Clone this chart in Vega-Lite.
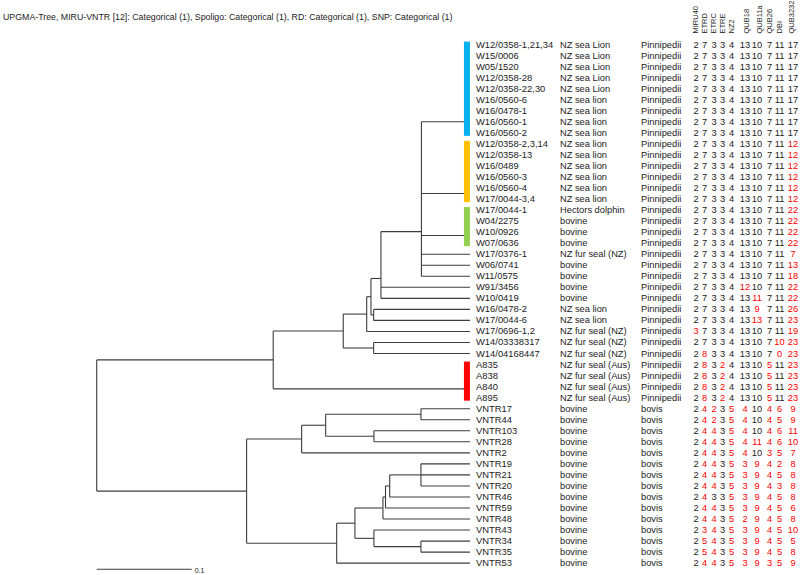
{
  "$schema": "https://vega.github.io/schema/vega-lite/v6.json",
  "width": 800,
  "height": 575,
  "autosize": {"type": "fit", "contains": "padding"},
  "padding": 0,
  "background": "white",
  "config": {"view": {"stroke": null}, "axis": {"disable": true}, "text": {"font": "Liberation Sans"}},
  "datasets": {
    "isolates": [
      {"row": 1, "id": "W12/0358-1,21,34", "host": "NZ sea Lion", "cat": "Pinnipedii", "MIRU40": 2, "ETRD": 7, "ETRC": 3, "ETRE": 3, "NZ2": 4, "QUB18": 13, "QUB11a": 10, "QUB26": 7, "DBI": 11, "QUB3232": 17},
      {"row": 2, "id": "W15/0006", "host": "NZ sea Lion", "cat": "Pinnipedii", "MIRU40": 2, "ETRD": 7, "ETRC": 3, "ETRE": 3, "NZ2": 4, "QUB18": 13, "QUB11a": 10, "QUB26": 7, "DBI": 11, "QUB3232": 17},
      {"row": 3, "id": "W05/1520", "host": "NZ sea Lion", "cat": "Pinnipedii", "MIRU40": 2, "ETRD": 7, "ETRC": 3, "ETRE": 3, "NZ2": 4, "QUB18": 13, "QUB11a": 10, "QUB26": 7, "DBI": 11, "QUB3232": 17},
      {"row": 4, "id": "W12/0358-28", "host": "NZ sea Lion", "cat": "Pinnipedii", "MIRU40": 2, "ETRD": 7, "ETRC": 3, "ETRE": 3, "NZ2": 4, "QUB18": 13, "QUB11a": 10, "QUB26": 7, "DBI": 11, "QUB3232": 17},
      {"row": 5, "id": "W12/0358-22,30", "host": "NZ sea Lion", "cat": "Pinnipedii", "MIRU40": 2, "ETRD": 7, "ETRC": 3, "ETRE": 3, "NZ2": 4, "QUB18": 13, "QUB11a": 10, "QUB26": 7, "DBI": 11, "QUB3232": 17},
      {"row": 6, "id": "W16/0560-6", "host": "NZ sea lion", "cat": "Pinnipedii", "MIRU40": 2, "ETRD": 7, "ETRC": 3, "ETRE": 3, "NZ2": 4, "QUB18": 13, "QUB11a": 10, "QUB26": 7, "DBI": 11, "QUB3232": 17},
      {"row": 7, "id": "W16/0478-1", "host": "NZ sea lion", "cat": "Pinnipedii", "MIRU40": 2, "ETRD": 7, "ETRC": 3, "ETRE": 3, "NZ2": 4, "QUB18": 13, "QUB11a": 10, "QUB26": 7, "DBI": 11, "QUB3232": 17},
      {"row": 8, "id": "W16/0560-1", "host": "NZ sea lion", "cat": "Pinnipedii", "MIRU40": 2, "ETRD": 7, "ETRC": 3, "ETRE": 3, "NZ2": 4, "QUB18": 13, "QUB11a": 10, "QUB26": 7, "DBI": 11, "QUB3232": 17},
      {"row": 9, "id": "W16/0560-2", "host": "NZ sea lion", "cat": "Pinnipedii", "MIRU40": 2, "ETRD": 7, "ETRC": 3, "ETRE": 3, "NZ2": 4, "QUB18": 13, "QUB11a": 10, "QUB26": 7, "DBI": 11, "QUB3232": 17},
      {"row": 10, "id": "W12/0358-2,3,14", "host": "NZ sea lion", "cat": "Pinnipedii", "MIRU40": 2, "ETRD": 7, "ETRC": 3, "ETRE": 3, "NZ2": 4, "QUB18": 13, "QUB11a": 10, "QUB26": 7, "DBI": 11, "QUB3232": 12},
      {"row": 11, "id": "W12/0358-13", "host": "NZ sea lion", "cat": "Pinnipedii", "MIRU40": 2, "ETRD": 7, "ETRC": 3, "ETRE": 3, "NZ2": 4, "QUB18": 13, "QUB11a": 10, "QUB26": 7, "DBI": 11, "QUB3232": 12},
      {"row": 12, "id": "W16/0489", "host": "NZ sea lion", "cat": "Pinnipedii", "MIRU40": 2, "ETRD": 7, "ETRC": 3, "ETRE": 3, "NZ2": 4, "QUB18": 13, "QUB11a": 10, "QUB26": 7, "DBI": 11, "QUB3232": 12},
      {"row": 13, "id": "W16/0560-3", "host": "NZ sea lion", "cat": "Pinnipedii", "MIRU40": 2, "ETRD": 7, "ETRC": 3, "ETRE": 3, "NZ2": 4, "QUB18": 13, "QUB11a": 10, "QUB26": 7, "DBI": 11, "QUB3232": 12},
      {"row": 14, "id": "W16/0560-4", "host": "NZ sea lion", "cat": "Pinnipedii", "MIRU40": 2, "ETRD": 7, "ETRC": 3, "ETRE": 3, "NZ2": 4, "QUB18": 13, "QUB11a": 10, "QUB26": 7, "DBI": 11, "QUB3232": 12},
      {"row": 15, "id": "W17/0044-3,4", "host": "NZ sea lion", "cat": "Pinnipedii", "MIRU40": 2, "ETRD": 7, "ETRC": 3, "ETRE": 3, "NZ2": 4, "QUB18": 13, "QUB11a": 10, "QUB26": 7, "DBI": 11, "QUB3232": 12},
      {"row": 16, "id": "W17/0044-1", "host": "Hectors dolphin", "cat": "Pinnipedii", "MIRU40": 2, "ETRD": 7, "ETRC": 3, "ETRE": 3, "NZ2": 4, "QUB18": 13, "QUB11a": 10, "QUB26": 7, "DBI": 11, "QUB3232": 22},
      {"row": 17, "id": "W04/2275", "host": "bovine", "cat": "Pinnipedii", "MIRU40": 2, "ETRD": 7, "ETRC": 3, "ETRE": 3, "NZ2": 4, "QUB18": 13, "QUB11a": 10, "QUB26": 7, "DBI": 11, "QUB3232": 22},
      {"row": 18, "id": "W10/0926", "host": "bovine", "cat": "Pinnipedii", "MIRU40": 2, "ETRD": 7, "ETRC": 3, "ETRE": 3, "NZ2": 4, "QUB18": 13, "QUB11a": 10, "QUB26": 7, "DBI": 11, "QUB3232": 22},
      {"row": 19, "id": "W07/0636", "host": "bovine", "cat": "Pinnipedii", "MIRU40": 2, "ETRD": 7, "ETRC": 3, "ETRE": 3, "NZ2": 4, "QUB18": 13, "QUB11a": 10, "QUB26": 7, "DBI": 11, "QUB3232": 22},
      {"row": 20, "id": "W17/0376-1", "host": "NZ fur seal (NZ)", "cat": "Pinnipedii", "MIRU40": 2, "ETRD": 7, "ETRC": 3, "ETRE": 3, "NZ2": 4, "QUB18": 13, "QUB11a": 10, "QUB26": 7, "DBI": 11, "QUB3232": 7},
      {"row": 21, "id": "W06/0741", "host": "bovine", "cat": "Pinnipedii", "MIRU40": 2, "ETRD": 7, "ETRC": 3, "ETRE": 3, "NZ2": 4, "QUB18": 13, "QUB11a": 10, "QUB26": 7, "DBI": 11, "QUB3232": 13},
      {"row": 22, "id": "W11/0575", "host": "bovine", "cat": "Pinnipedii", "MIRU40": 2, "ETRD": 7, "ETRC": 3, "ETRE": 3, "NZ2": 4, "QUB18": 13, "QUB11a": 10, "QUB26": 7, "DBI": 11, "QUB3232": 18},
      {"row": 23, "id": "W91/3456", "host": "bovine", "cat": "Pinnipedii", "MIRU40": 2, "ETRD": 7, "ETRC": 3, "ETRE": 3, "NZ2": 4, "QUB18": 12, "QUB11a": 10, "QUB26": 7, "DBI": 11, "QUB3232": 22},
      {"row": 24, "id": "W10/0419", "host": "bovine", "cat": "Pinnipedii", "MIRU40": 2, "ETRD": 7, "ETRC": 3, "ETRE": 3, "NZ2": 4, "QUB18": 13, "QUB11a": 11, "QUB26": 7, "DBI": 11, "QUB3232": 22},
      {"row": 25, "id": "W16/0478-2", "host": "NZ sea lion", "cat": "Pinnipedii", "MIRU40": 2, "ETRD": 7, "ETRC": 3, "ETRE": 3, "NZ2": 4, "QUB18": 13, "QUB11a": 9, "QUB26": 7, "DBI": 11, "QUB3232": 26},
      {"row": 26, "id": "W17/0044-6", "host": "NZ sea lion", "cat": "Pinnipedii", "MIRU40": 2, "ETRD": 7, "ETRC": 3, "ETRE": 3, "NZ2": 4, "QUB18": 13, "QUB11a": 13, "QUB26": 7, "DBI": 11, "QUB3232": 23},
      {"row": 27, "id": "W17/0696-1,2", "host": "NZ fur seal (NZ)", "cat": "Pinnipedii", "MIRU40": 3, "ETRD": 7, "ETRC": 3, "ETRE": 3, "NZ2": 4, "QUB18": 13, "QUB11a": 10, "QUB26": 7, "DBI": 11, "QUB3232": 19},
      {"row": 28, "id": "W14/03338317", "host": "NZ fur seal (NZ)", "cat": "Pinnipedii", "MIRU40": 2, "ETRD": 7, "ETRC": 3, "ETRE": 3, "NZ2": 4, "QUB18": 13, "QUB11a": 10, "QUB26": 7, "DBI": 10, "QUB3232": 23},
      {"row": 29, "id": "W14/04168447", "host": "NZ fur seal (NZ)", "cat": "Pinnipedii", "MIRU40": 2, "ETRD": 8, "ETRC": 3, "ETRE": 3, "NZ2": 4, "QUB18": 13, "QUB11a": 10, "QUB26": 7, "DBI": 0, "QUB3232": 23},
      {"row": 30, "id": "A835", "host": "NZ fur seal (Aus)", "cat": "Pinnipedii", "MIRU40": 2, "ETRD": 8, "ETRC": 3, "ETRE": 2, "NZ2": 4, "QUB18": 13, "QUB11a": 10, "QUB26": 5, "DBI": 11, "QUB3232": 23},
      {"row": 31, "id": "A838", "host": "NZ fur seal (Aus)", "cat": "Pinnipedii", "MIRU40": 2, "ETRD": 8, "ETRC": 3, "ETRE": 2, "NZ2": 4, "QUB18": 13, "QUB11a": 10, "QUB26": 5, "DBI": 11, "QUB3232": 23},
      {"row": 32, "id": "A840", "host": "NZ fur seal (Aus)", "cat": "Pinnipedii", "MIRU40": 2, "ETRD": 8, "ETRC": 3, "ETRE": 2, "NZ2": 4, "QUB18": 13, "QUB11a": 10, "QUB26": 5, "DBI": 11, "QUB3232": 23},
      {"row": 33, "id": "A895", "host": "NZ fur seal (Aus)", "cat": "Pinnipedii", "MIRU40": 2, "ETRD": 8, "ETRC": 3, "ETRE": 2, "NZ2": 4, "QUB18": 13, "QUB11a": 10, "QUB26": 5, "DBI": 11, "QUB3232": 23},
      {"row": 34, "id": "VNTR17", "host": "bovine", "cat": "bovis", "MIRU40": 2, "ETRD": 4, "ETRC": 2, "ETRE": 3, "NZ2": 5, "QUB18": 4, "QUB11a": 10, "QUB26": 4, "DBI": 6, "QUB3232": 9},
      {"row": 35, "id": "VNTR44", "host": "bovine", "cat": "bovis", "MIRU40": 2, "ETRD": 4, "ETRC": 2, "ETRE": 3, "NZ2": 5, "QUB18": 4, "QUB11a": 10, "QUB26": 4, "DBI": 5, "QUB3232": 9},
      {"row": 36, "id": "VNTR103", "host": "bovine", "cat": "bovis", "MIRU40": 2, "ETRD": 4, "ETRC": 4, "ETRE": 3, "NZ2": 5, "QUB18": 4, "QUB11a": 10, "QUB26": 4, "DBI": 6, "QUB3232": 11},
      {"row": 37, "id": "VNTR28", "host": "bovine", "cat": "bovis", "MIRU40": 2, "ETRD": 4, "ETRC": 4, "ETRE": 3, "NZ2": 5, "QUB18": 4, "QUB11a": 11, "QUB26": 4, "DBI": 6, "QUB3232": 10},
      {"row": 38, "id": "VNTR2", "host": "bovine", "cat": "bovis", "MIRU40": 2, "ETRD": 4, "ETRC": 4, "ETRE": 3, "NZ2": 5, "QUB18": 4, "QUB11a": 10, "QUB26": 3, "DBI": 5, "QUB3232": 7},
      {"row": 39, "id": "VNTR19", "host": "bovine", "cat": "bovis", "MIRU40": 2, "ETRD": 4, "ETRC": 4, "ETRE": 3, "NZ2": 5, "QUB18": 3, "QUB11a": 9, "QUB26": 4, "DBI": 2, "QUB3232": 8},
      {"row": 40, "id": "VNTR21", "host": "bovine", "cat": "bovis", "MIRU40": 2, "ETRD": 4, "ETRC": 4, "ETRE": 3, "NZ2": 5, "QUB18": 3, "QUB11a": 9, "QUB26": 4, "DBI": 5, "QUB3232": 8},
      {"row": 41, "id": "VNTR20", "host": "bovine", "cat": "bovis", "MIRU40": 2, "ETRD": 4, "ETRC": 4, "ETRE": 3, "NZ2": 5, "QUB18": 3, "QUB11a": 9, "QUB26": 4, "DBI": 3, "QUB3232": 8},
      {"row": 42, "id": "VNTR46", "host": "bovine", "cat": "bovis", "MIRU40": 2, "ETRD": 4, "ETRC": 3, "ETRE": 3, "NZ2": 5, "QUB18": 3, "QUB11a": 9, "QUB26": 4, "DBI": 5, "QUB3232": 8},
      {"row": 43, "id": "VNTR59", "host": "bovine", "cat": "bovis", "MIRU40": 2, "ETRD": 4, "ETRC": 4, "ETRE": 3, "NZ2": 5, "QUB18": 3, "QUB11a": 9, "QUB26": 4, "DBI": 5, "QUB3232": 6},
      {"row": 44, "id": "VNTR48", "host": "bovine", "cat": "bovis", "MIRU40": 2, "ETRD": 4, "ETRC": 4, "ETRE": 3, "NZ2": 5, "QUB18": 2, "QUB11a": 9, "QUB26": 4, "DBI": 5, "QUB3232": 8},
      {"row": 45, "id": "VNTR43", "host": "bovine", "cat": "bovis", "MIRU40": 2, "ETRD": 3, "ETRC": 4, "ETRE": 3, "NZ2": 5, "QUB18": 3, "QUB11a": 9, "QUB26": 4, "DBI": 5, "QUB3232": 10},
      {"row": 46, "id": "VNTR34", "host": "bovine", "cat": "bovis", "MIRU40": 2, "ETRD": 5, "ETRC": 4, "ETRE": 3, "NZ2": 5, "QUB18": 3, "QUB11a": 9, "QUB26": 4, "DBI": 5, "QUB3232": 5},
      {"row": 47, "id": "VNTR35", "host": "bovine", "cat": "bovis", "MIRU40": 2, "ETRD": 5, "ETRC": 4, "ETRE": 3, "NZ2": 5, "QUB18": 3, "QUB11a": 9, "QUB26": 4, "DBI": 5, "QUB3232": 8},
      {"row": 48, "id": "VNTR53", "host": "bovine", "cat": "bovis", "MIRU40": 2, "ETRD": 4, "ETRC": 4, "ETRE": 3, "NZ2": 5, "QUB18": 3, "QUB11a": 9, "QUB26": 3, "DBI": 5, "QUB3232": 9}
    ],
    "segments": [
      {"h1": 0.3929, "h2": 0.3929, "r1": 29.58, "r2": 41.47},
      {"h1": 0.2071, "h2": 0.2071, "r1": 26.96, "r2": 32.2},
      {"h1": 0.1334, "h2": 0.1334, "r1": 25.425, "r2": 28.5},
      {"h1": 0.1014, "h2": 0.1014, "r1": 28, "r2": 29},
      {"h1": 0.1087, "h2": 0.1087, "r1": 23.85, "r2": 27},
      {"h1": 0.1042, "h2": 0.1042, "r1": 22.2, "r2": 25.5},
      {"h1": 0.1014, "h2": 0.1014, "r1": 25, "r2": 26},
      {"h1": 0.0937, "h2": 0.0937, "r1": 17.95, "r2": 24},
      {"h1": 0.0511, "h2": 0.0511, "r1": 8, "r2": 22},
      {"h1": 0.2351, "h2": 0.2351, "r1": 36.75, "r2": 46.19},
      {"h1": 0.1772, "h2": 0.1772, "r1": 35.5, "r2": 38},
      {"h1": 0.1519, "h2": 0.1519, "r1": 34.5, "r2": 36.5},
      {"h1": 0.0516, "h2": 0.0516, "r1": 34, "r2": 35},
      {"h1": 0.1011, "h2": 0.1011, "r1": 36, "r2": 37},
      {"h1": 0.1403, "h2": 0.1403, "r1": 44.375, "r2": 48},
      {"h1": 0.1211, "h2": 0.1211, "r1": 43, "r2": 45.75},
      {"h1": 0.0916, "h2": 0.0916, "r1": 42, "r2": 44},
      {"h1": 0.0889, "h2": 0.0889, "r1": 41, "r2": 43},
      {"h1": 0.0845, "h2": 0.0845, "r1": 40, "r2": 42},
      {"h1": 0.0516, "h2": 0.0516, "r1": 39, "r2": 41},
      {"h1": 0.1011, "h2": 0.1011, "r1": 45, "r2": 46.5},
      {"h1": 0.0516, "h2": 0.0516, "r1": 46, "r2": 47},
      {"h1": 0.3929, "h2": 0.2071, "r1": 29.58, "r2": 29.58},
      {"h1": 0.3929, "h2": 0.2351, "r1": 41.47, "r2": 41.47},
      {"h1": 0.2071, "h2": 0.1334, "r1": 26.96, "r2": 26.96},
      {"h1": 0.2071, "h2": 0, "r1": 32.2, "r2": 32.2},
      {"h1": 0.1334, "h2": 0.1087, "r1": 25.425, "r2": 25.425},
      {"h1": 0.1334, "h2": 0.1014, "r1": 28.5, "r2": 28.5},
      {"h1": 0.1014, "h2": 0, "r1": 28, "r2": 28},
      {"h1": 0.1014, "h2": 0, "r1": 29, "r2": 29},
      {"h1": 0.1087, "h2": 0.1042, "r1": 23.85, "r2": 23.85},
      {"h1": 0.1087, "h2": 0, "r1": 27, "r2": 27},
      {"h1": 0.1042, "h2": 0.0937, "r1": 22.2, "r2": 22.2},
      {"h1": 0.1042, "h2": 0.1014, "r1": 25.5, "r2": 25.5},
      {"h1": 0.1014, "h2": 0, "r1": 25, "r2": 25},
      {"h1": 0.1014, "h2": 0, "r1": 26, "r2": 26},
      {"h1": 0.0937, "h2": 0.0511, "r1": 17.95, "r2": 17.95},
      {"h1": 0.0937, "h2": 0, "r1": 23, "r2": 23},
      {"h1": 0.0937, "h2": 0, "r1": 24, "r2": 24},
      {"h1": 0.0511, "h2": 0, "r1": 8, "r2": 8},
      {"h1": 0.0511, "h2": 0, "r1": 14.5, "r2": 14.5},
      {"h1": 0.0511, "h2": 0, "r1": 18.3, "r2": 18.3},
      {"h1": 0.0511, "h2": 0, "r1": 20, "r2": 20},
      {"h1": 0.0511, "h2": 0, "r1": 21, "r2": 21},
      {"h1": 0.0511, "h2": 0, "r1": 22, "r2": 22},
      {"h1": 0.2351, "h2": 0.1772, "r1": 36.75, "r2": 36.75},
      {"h1": 0.2351, "h2": 0.1403, "r1": 46.19, "r2": 46.19},
      {"h1": 0.1772, "h2": 0.1519, "r1": 35.5, "r2": 35.5},
      {"h1": 0.1772, "h2": 0, "r1": 38, "r2": 38},
      {"h1": 0.1519, "h2": 0.0516, "r1": 34.5, "r2": 34.5},
      {"h1": 0.1519, "h2": 0.1011, "r1": 36.5, "r2": 36.5},
      {"h1": 0.0516, "h2": 0, "r1": 34, "r2": 34},
      {"h1": 0.0516, "h2": 0, "r1": 35, "r2": 35},
      {"h1": 0.1011, "h2": 0, "r1": 36, "r2": 36},
      {"h1": 0.1011, "h2": 0, "r1": 37, "r2": 37},
      {"h1": 0.1403, "h2": 0.1211, "r1": 44.375, "r2": 44.375},
      {"h1": 0.1403, "h2": 0, "r1": 48, "r2": 48},
      {"h1": 0.1211, "h2": 0.0916, "r1": 43, "r2": 43},
      {"h1": 0.1211, "h2": 0.1011, "r1": 45.75, "r2": 45.75},
      {"h1": 0.0916, "h2": 0.0889, "r1": 42, "r2": 42},
      {"h1": 0.0916, "h2": 0, "r1": 44, "r2": 44},
      {"h1": 0.0889, "h2": 0.0845, "r1": 41, "r2": 41},
      {"h1": 0.0889, "h2": 0, "r1": 43, "r2": 43},
      {"h1": 0.0845, "h2": 0.0516, "r1": 40, "r2": 40},
      {"h1": 0.0845, "h2": 0, "r1": 42, "r2": 42},
      {"h1": 0.0516, "h2": 0, "r1": 39, "r2": 39},
      {"h1": 0.0516, "h2": 0, "r1": 40, "r2": 40},
      {"h1": 0.0516, "h2": 0, "r1": 41, "r2": 41},
      {"h1": 0.1011, "h2": 0, "r1": 45, "r2": 45},
      {"h1": 0.1011, "h2": 0.0516, "r1": 46.5, "r2": 46.5},
      {"h1": 0.0516, "h2": 0, "r1": 46, "r2": 46},
      {"h1": 0.0516, "h2": 0, "r1": 47, "r2": 47}
    ],
    "clusters": [
      {"cluster": "1", "first": 1, "last": 9},
      {"cluster": "2", "first": 10, "last": 15},
      {"cluster": "3", "first": 16, "last": 19},
      {"cluster": "4", "first": 30, "last": 33}
    ]
  },
  "resolve": {"scale": {"x": "independent"}},
  "layer": [
    {
      "layer": [
        {
          "data": {"name": "segments"},
          "mark": {"type": "rule", "stroke": "#3c3c3c", "strokeWidth": 1.1},
          "encoding": {
            "x": {"field": "h1", "type": "quantitative", "scale": {"domain": [-0.3474, 0.4947], "reverse": true, "nice": false, "zero": false}, "axis": null},
            "x2": {"field": "h2"},
            "y": {"field": "r1", "type": "quantitative", "scale": {"domain": [-2.767, 48.8], "reverse": true, "nice": false, "zero": false}, "axis": null},
            "y2": {"field": "r2"}
          }
        },
        {
          "data": {"name": "clusters"},
          "mark": {"type": "rule", "strokeWidth": 6, "strokeCap": "square"},
          "encoding": {
            "x": {"datum": 0.0032, "type": "quantitative", "scale": {"domain": [-0.3474, 0.4947], "reverse": true, "nice": false, "zero": false}, "axis": null},
            "y": {"field": "first", "type": "quantitative", "scale": {"domain": [-2.767, 48.8], "reverse": true, "nice": false, "zero": false}, "axis": null},
            "y2": {"field": "last"},
            "color": {"field": "cluster", "type": "nominal", "scale": {"domain": ["1", "2", "3", "4"], "range": ["#00B0F0", "#FFC000", "#92D050", "#FF0000"]}, "legend": null}
          }
        },
        {
          "data": {"values": [{"start": 0.3929, "end": 0.2929, "label": "0.1"}]},
          "mark": {"type": "rule", "stroke": "#3c3c3c", "strokeWidth": 1.1},
          "encoding": {
            "x": {"field": "start", "type": "quantitative", "scale": {"domain": [-0.3474, 0.4947], "reverse": true, "nice": false, "zero": false}, "axis": null},
            "x2": {"field": "end"},
            "y": {"datum": 48.55, "type": "quantitative", "scale": {"domain": [-2.767, 48.8], "reverse": true, "nice": false, "zero": false}, "axis": null}
          }
        },
        {
          "data": {"values": [{"start": 0.3929, "end": 0.2929, "label": "0.1"}]},
          "mark": {"type": "text", "align": "left", "baseline": "middle", "fontSize": 7, "dx": 3, "dy": 2, "color": "#222222"},
          "encoding": {
            "x": {"field": "end", "type": "quantitative", "scale": {"domain": [-0.3474, 0.4947], "reverse": true, "nice": false, "zero": false}, "axis": null},
            "y": {"datum": 48.55, "type": "quantitative", "scale": {"domain": [-2.767, 48.8], "reverse": true, "nice": false, "zero": false}, "axis": null},
            "text": {"field": "label"}
          }
        }
      ]
    },
    {
      "data": {"name": "isolates"},
      "layer": [
        {
          "data": {"values": [{"t": "UPGMA-Tree,  MIRU-VNTR  [12]: Categorical (1), Spoligo:  Categorical (1), RD:  Categorical (1), SNP:  Categorical (1)"}]},
          "mark": {"type": "text", "align": "left", "baseline": "middle", "fontSize": 8.8, "color": "#222222"},
          "encoding": {
            "x": {"datum": 3, "type": "quantitative", "scale": {"domain": [0, 800], "nice": false, "zero": false}, "axis": null},
            "y": {"datum": -1.5, "type": "quantitative", "scale": {"domain": [-2.767, 48.8], "reverse": true, "nice": false, "zero": false}, "axis": null},
            "text": {"field": "t"}
          }
        },
        {"mark": {"type": "text", "align": "left", "baseline": "middle", "fontSize": 9.4, "color": "#222222"},
         "encoding": {"x": {"datum": 476, "type": "quantitative", "scale": {"domain": [0, 800], "nice": false, "zero": false}, "axis": null}, "y": {"field": "row", "type": "quantitative", "scale": {"domain": [-2.767, 48.8], "reverse": true, "nice": false, "zero": false}, "axis": null}, "text": {"field": "id"}}},
        {"mark": {"type": "text", "align": "left", "baseline": "middle", "fontSize": 9.3, "color": "#222222"},
         "encoding": {"x": {"datum": 560}, "y": {"field": "row", "type": "quantitative"}, "text": {"field": "host"}}},
        {"mark": {"type": "text", "align": "left", "baseline": "middle", "fontSize": 9.3, "color": "#222222"},
         "encoding": {"x": {"datum": 641}, "y": {"field": "row", "type": "quantitative"}, "text": {"field": "cat"}}},
        {"mark": {"type": "text", "align": "center", "baseline": "middle", "fontSize": 9.3},
         "encoding": {"x": {"datum": 696}, "y": {"field": "row", "type": "quantitative"}, "text": {"field": "MIRU40"}, "color": {"condition": {"test": "datum.MIRU40 !== 2", "value": "#FF0000"}, "value": "#222222"}}},
        {"mark": {"type": "text", "align": "center", "baseline": "middle", "fontSize": 9.3},
         "encoding": {"x": {"datum": 704.5}, "y": {"field": "row", "type": "quantitative"}, "text": {"field": "ETRD"}, "color": {"condition": {"test": "datum.ETRD !== 7", "value": "#FF0000"}, "value": "#222222"}}},
        {"mark": {"type": "text", "align": "center", "baseline": "middle", "fontSize": 9.3},
         "encoding": {"x": {"datum": 714}, "y": {"field": "row", "type": "quantitative"}, "text": {"field": "ETRC"}, "color": {"condition": {"test": "datum.ETRC !== 3", "value": "#FF0000"}, "value": "#222222"}}},
        {"mark": {"type": "text", "align": "center", "baseline": "middle", "fontSize": 9.3},
         "encoding": {"x": {"datum": 722.5}, "y": {"field": "row", "type": "quantitative"}, "text": {"field": "ETRE"}, "color": {"condition": {"test": "datum.ETRE !== 3", "value": "#FF0000"}, "value": "#222222"}}},
        {"mark": {"type": "text", "align": "center", "baseline": "middle", "fontSize": 9.3},
         "encoding": {"x": {"datum": 731.5}, "y": {"field": "row", "type": "quantitative"}, "text": {"field": "NZ2"}, "color": {"condition": {"test": "datum.NZ2 !== 4", "value": "#FF0000"}, "value": "#222222"}}},
        {"mark": {"type": "text", "align": "center", "baseline": "middle", "fontSize": 9.3},
         "encoding": {"x": {"datum": 745}, "y": {"field": "row", "type": "quantitative"}, "text": {"field": "QUB18"}, "color": {"condition": {"test": "datum.QUB18 !== 13", "value": "#FF0000"}, "value": "#222222"}}},
        {"mark": {"type": "text", "align": "center", "baseline": "middle", "fontSize": 9.3},
         "encoding": {"x": {"datum": 757}, "y": {"field": "row", "type": "quantitative"}, "text": {"field": "QUB11a"}, "color": {"condition": {"test": "datum.QUB11a !== 10", "value": "#FF0000"}, "value": "#222222"}}},
        {"mark": {"type": "text", "align": "center", "baseline": "middle", "fontSize": 9.3},
         "encoding": {"x": {"datum": 769.5}, "y": {"field": "row", "type": "quantitative"}, "text": {"field": "QUB26"}, "color": {"condition": {"test": "datum.QUB26 !== 7", "value": "#FF0000"}, "value": "#222222"}}},
        {"mark": {"type": "text", "align": "center", "baseline": "middle", "fontSize": 9.3},
         "encoding": {"x": {"datum": 779.5}, "y": {"field": "row", "type": "quantitative"}, "text": {"field": "DBI"}, "color": {"condition": {"test": "datum.DBI !== 11", "value": "#FF0000"}, "value": "#222222"}}},
        {"mark": {"type": "text", "align": "center", "baseline": "middle", "fontSize": 9.3},
         "encoding": {"x": {"datum": 793}, "y": {"field": "row", "type": "quantitative"}, "text": {"field": "QUB3232"}, "color": {"condition": {"test": "datum.QUB3232 !== 17", "value": "#FF0000"}, "value": "#222222"}}},
        {"data": {"values": [{"locus": "MIRU40"}]}, "mark": {"type": "text", "angle": 270, "align": "left", "baseline": "middle", "fontSize": 7.5, "color": "#222222"},
         "encoding": {"x": {"datum": 696}, "y": {"datum": 0}, "text": {"field": "locus"}}},
        {"data": {"values": [{"locus": "ETRD"}]}, "mark": {"type": "text", "angle": 270, "align": "left", "baseline": "middle", "fontSize": 7.5, "color": "#222222"},
         "encoding": {"x": {"datum": 704.5}, "y": {"datum": 0}, "text": {"field": "locus"}}},
        {"data": {"values": [{"locus": "ETRC"}]}, "mark": {"type": "text", "angle": 270, "align": "left", "baseline": "middle", "fontSize": 7.5, "color": "#222222"},
         "encoding": {"x": {"datum": 713.5}, "y": {"datum": 0}, "text": {"field": "locus"}}},
        {"data": {"values": [{"locus": "ETRE"}]}, "mark": {"type": "text", "angle": 270, "align": "left", "baseline": "middle", "fontSize": 7.5, "color": "#222222"},
         "encoding": {"x": {"datum": 722.5}, "y": {"datum": 0}, "text": {"field": "locus"}}},
        {"data": {"values": [{"locus": "NZ2"}]}, "mark": {"type": "text", "angle": 270, "align": "left", "baseline": "middle", "fontSize": 7.5, "color": "#222222"},
         "encoding": {"x": {"datum": 731.5}, "y": {"datum": 0}, "text": {"field": "locus"}}},
        {"data": {"values": [{"locus": "QUB18"}]}, "mark": {"type": "text", "angle": 270, "align": "left", "baseline": "middle", "fontSize": 7.5, "color": "#222222"},
         "encoding": {"x": {"datum": 747}, "y": {"datum": 0}, "text": {"field": "locus"}}},
        {"data": {"values": [{"locus": "QUB11a"}]}, "mark": {"type": "text", "angle": 270, "align": "left", "baseline": "middle", "fontSize": 7.5, "color": "#222222"},
         "encoding": {"x": {"datum": 759.5}, "y": {"datum": 0}, "text": {"field": "locus"}}},
        {"data": {"values": [{"locus": "QUB26"}]}, "mark": {"type": "text", "angle": 270, "align": "left", "baseline": "middle", "fontSize": 7.5, "color": "#222222"},
         "encoding": {"x": {"datum": 770}, "y": {"datum": 0}, "text": {"field": "locus"}}},
        {"data": {"values": [{"locus": "DBI"}]}, "mark": {"type": "text", "angle": 270, "align": "left", "baseline": "middle", "fontSize": 7.5, "color": "#222222"},
         "encoding": {"x": {"datum": 780}, "y": {"datum": 0}, "text": {"field": "locus"}}},
        {"data": {"values": [{"locus": "QUB3232"}]}, "mark": {"type": "text", "angle": 270, "align": "left", "baseline": "middle", "fontSize": 7.5, "color": "#222222"},
         "encoding": {"x": {"datum": 792}, "y": {"datum": 0}, "text": {"field": "locus"}}}
      ]
    }
  ]
}
